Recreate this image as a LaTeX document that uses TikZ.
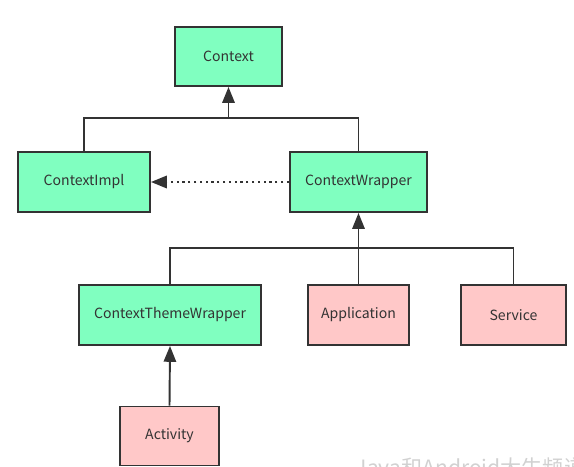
\documentclass[tikz,border=0pt]{standalone}
\usepackage{fontspec}
\setmainfont{Noto Sans CJK SC}
\usepackage{tikz}
\usetikzlibrary{positioning, arrows.meta}

\definecolor{mint}{RGB}{128,255,192}
\definecolor{rose}{RGB}{255,200,200}
\definecolor{edge}{RGB}{51,51,51}

\begin{document}
\begin{tikzpicture}[x=0.02cm,y=-0.02cm,>={Triangle[length=9pt,width=7pt]},
        line width=1.1pt,draw=edge,
        base node/.style={rectangle,draw=edge,line width=1.1pt,minimum height=1.2cm,font=\fontsize{8}{10}\selectfont,text=edge},
        abstract node/.style={base node,fill=mint}, leaf node/.style={base node,fill=rose}]
        \useasboundingbox (0,0) rectangle (574,466);
        \node[abstract node,minimum width=2.14cm,minimum height=1.18cm] (ctx) at (228.5,56.5) {Context};
        \node[abstract node,minimum width=2.64cm] (impl) at (84,182) {ContextImpl};
        \node[abstract node,minimum width=2.74cm] (wrapper) at (358.5,182) {ContextWrapper};
        \node[abstract node,minimum width=3.64cm] (theme) at (170,315) {ContextThemeWrapper};
        \node[leaf node,minimum width=2.02cm] (app) at (358.5,315) {Application};
        \node[leaf node,minimum width=2.1cm] (service) at (513.5,315) {Service};
        \node[leaf node,minimum width=1.98cm,minimum height=1.18cm] (activity) at (169.5,436) {Activity};
        
        \coordinate (top join) at (228.5,118);
        \coordinate (low join) at (358.5,248);
        
        \draw (impl.north) |- (top join) -| (wrapper.north);
        \draw[->] (top join) -- (ctx.south);
        \draw[->,dotted,line width=1.3pt] (wrapper.west) -- (impl.west -| impl.east);
        \draw (theme.north) |- (low join) -| (service.north);
        \draw[->] (app.north) -- (wrapper.south);
        \draw[->] (activity.north) -- (theme.south);
        
        % watermark, cut by the lower edge as in the original
        \node[anchor=base west,text=black!18,font=\fontsize{12}{14}\selectfont] (mark) at (349,475) {Java和Android大牛频道};
    \end{tikzpicture}
\end{document}
